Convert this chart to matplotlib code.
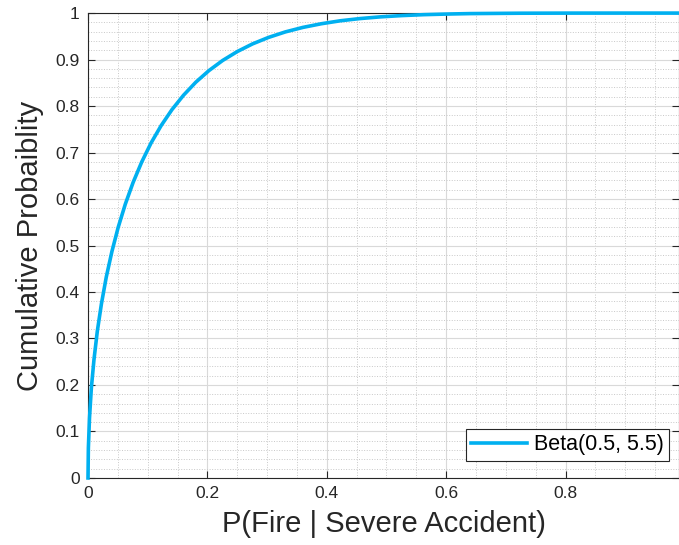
"""
CDF of the Beta(0.5, 5.5) prior on P(Fire | Severe Accident).
"""

import matplotlib
matplotlib.use('Agg')
import matplotlib.pyplot as plt
from matplotlib.ticker import MultipleLocator, FuncFormatter

plt.rcParams['font.family'] = ['Liberation Sans', 'DejaVu Sans']

# Points
p_fire = [0.0, 0.000625, 0.0025, 0.005625, 0.01, 0.0156, 0.0225, 0.0306, 0.04,
          0.0506, 0.0625, 0.0756, 0.09, 0.1056, 0.1225, 0.1406, 0.16, 0.1806,
          0.2025, 0.2256, 0.25, 0.2756, 0.3025, 0.3306, 0.36, 0.3906, 0.4225,
          0.4556, 0.49, 0.5256, 0.5625, 0.6006, 0.64, 0.7225, 0.81, 0.9025, 1.0]
cum_prob = [0.0, 0.0646, 0.1286, 0.1935, 0.2544, 0.3157, 0.3746, 0.4321, 0.4868,
            0.5393, 0.5890, 0.6358, 0.6797, 0.7205, 0.7579, 0.7922, 0.8233, 0.8513,
            0.8762, 0.8981, 0.9172, 0.9337, 0.9477, 0.9595, 0.9692, 0.9770, 0.9834,
            0.9882, 0.9919, 0.9946, 0.9966, 0.9979, 0.9989, 0.9997, 0.99995, 1.0, 1.0]
legend_label = 'Beta(0.5, 5.5)'

line_color = '#00B0F0'
text_color = '#262626'

fig = plt.figure(figsize=(6.79, 5.45), dpi=100)
ax = fig.add_axes([0.1296, 0.123, 0.8704, 0.853])

ax.plot(p_fire, cum_prob, color=line_color, linewidth=2.6, label=legend_label,
        clip_on=False, zorder=5, solid_joinstyle='round')

ax.set_xlim(0, 0.99)
ax.set_ylim(0, 1)

ax.xaxis.set_major_locator(MultipleLocator(0.2))
ax.xaxis.set_minor_locator(MultipleLocator(0.05))
ax.yaxis.set_major_locator(MultipleLocator(0.1))
ax.yaxis.set_minor_locator(MultipleLocator(0.02))

fmt = FuncFormatter(lambda v, pos: f'{v:g}')
ax.xaxis.set_major_formatter(fmt)
ax.yaxis.set_major_formatter(fmt)

ax.grid(which='major', color='#d9d9d9', linestyle='-', linewidth=0.8)
ax.grid(which='minor', color='#c8c8c8', linestyle=':', linewidth=0.7)
ax.set_axisbelow(True)

ax.tick_params(which='both', direction='in', top=True, right=True,
               colors=text_color, labelsize=12.5, width=0.8)
ax.tick_params(which='major', length=5, pad=6)
ax.tick_params(which='minor', length=0)

for s in ax.spines.values():
    s.set_color(text_color)
    s.set_linewidth(0.8)

ax.set_xlabel('P(Fire | Severe Accident)', fontsize=21, color=text_color, labelpad=6)
ax.set_ylabel('Cumulative Probaiblity', fontsize=21, color=text_color, labelpad=8)

leg = ax.legend(loc='lower right', bbox_to_anchor=(0.983, 0.037), fontsize=15.5,
                fancybox=False, framealpha=1, edgecolor=text_color,
                handlelength=2.6, borderpad=0.25, handletextpad=0.3,
                borderaxespad=0)
leg.get_frame().set_linewidth(0.8)

fig.savefig('out.png', dpi=100)
